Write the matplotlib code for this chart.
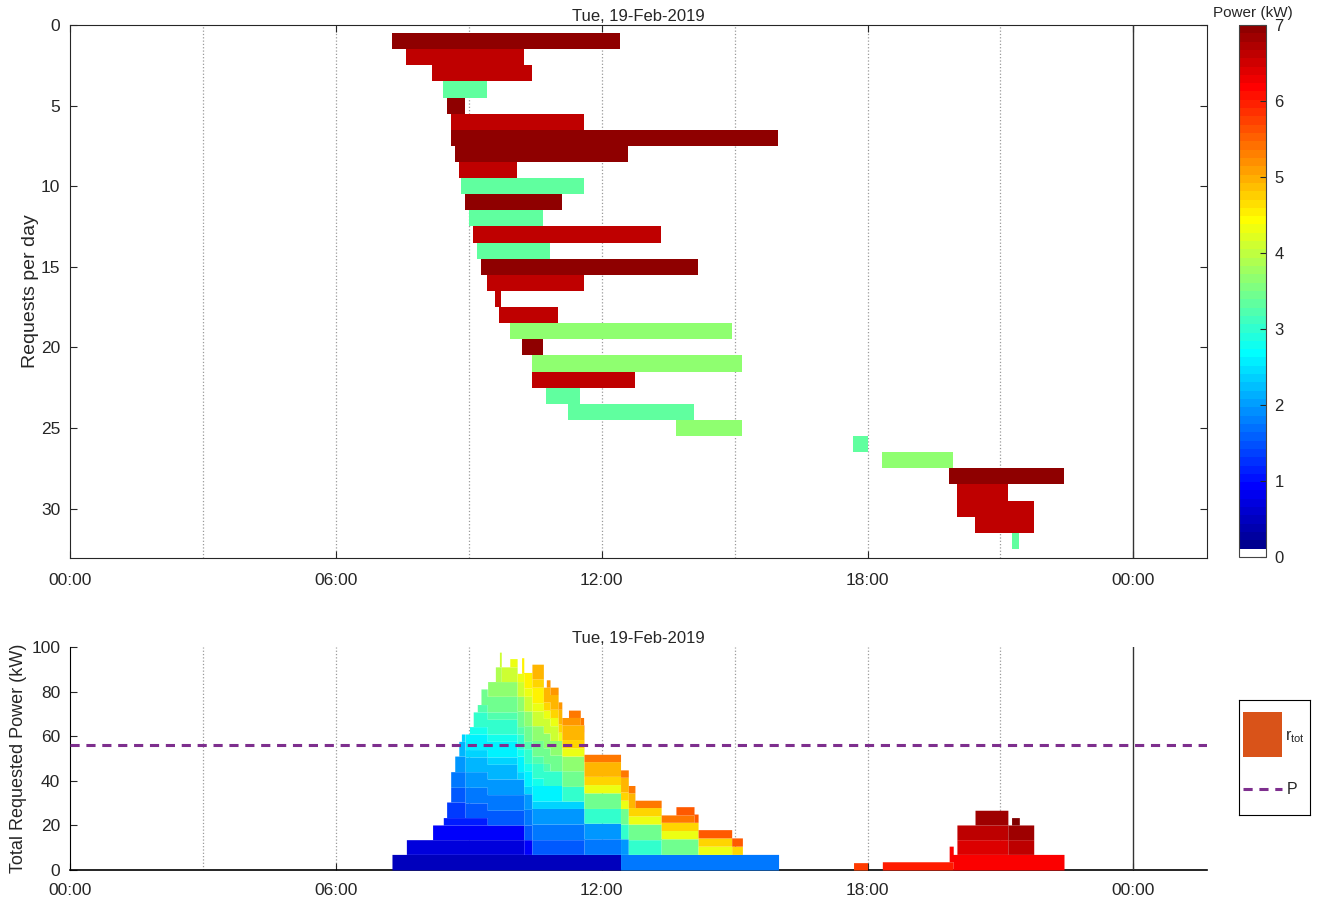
import numpy as np
import matplotlib
matplotlib.use("Agg")
import matplotlib.pyplot as plt
from matplotlib.colors import ListedColormap, Normalize
from matplotlib.patches import Rectangle

plt.rcParams['font.family'] = ['Liberation Sans', 'DejaVu Sans']

# charging requests of the day (hours from midnight) and requested power (kW)
request_start = [7.26, 7.59, 8.18, 8.42, 8.50, 8.59, 8.59, 8.68, 8.77, 8.83,
                 8.92, 9.01, 9.10, 9.19, 9.27, 9.42, 9.60, 9.69, 9.92, 10.19,
                 10.42, 10.42, 10.75, 11.25, 13.67, 17.68, 18.33, 19.84, 20.01, 20.01,
                 20.42, 21.25]
request_end = [12.42, 10.24, 10.42, 9.41, 8.91, 11.60, 15.99, 12.60, 10.09, 11.59,
               11.10, 10.68, 13.34, 10.83, 14.17, 11.60, 9.73, 11.01, 14.93, 10.68,
               15.17, 12.75, 11.51, 14.08, 15.17, 18.00, 19.93, 22.43, 21.16, 21.75,
               21.75, 21.42]
request_power = [7.0, 6.6, 6.6, 3.3, 7.0, 6.6, 7.0, 7.0, 6.6, 3.3,
                 7.0, 3.3, 6.6, 3.3, 7.0, 6.6, 6.6, 6.6, 3.7, 7.0,
                 3.7, 6.6, 3.3, 3.3, 3.7, 3.3, 3.7, 7.0, 6.6, 6.6,
                 6.6, 3.3]
power_limit = 56
day_title = "Tue, 19-Feb-2019"
hour_ticks = [0, 6, 12, 18, 24]
hour_labels = ["00:00", "06:00", "12:00", "18:00", "00:00"]


def jet(x):
    x = np.asarray(x, dtype=float)
    r = np.clip(np.minimum(4 * x - 1.5, -4 * x + 4.5), 0, 1)
    g = np.clip(np.minimum(4 * x - 0.5, -4 * x + 3.5), 0, 1)
    b = np.clip(np.minimum(4 * x + 0.5, -4 * x + 2.5), 0, 1)
    return np.stack([r, g, b], axis=-1)


def matlab_jet(m):
    # discrete jet table as built by MATLAB's jet(m)
    n = int(np.ceil(m / 4))
    u = np.r_[np.arange(1, n + 1) / n, np.ones(n - 1), np.arange(n, 0, -1) / n]
    g = int(np.ceil(n / 2)) - int(m % 4 == 1) + np.arange(1, len(u) + 1)
    table = np.zeros((m, 3))
    for col, idx in enumerate((g + n, g, g - n)):
        ok = (idx >= 1) & (idx <= m)
        table[idx[ok] - 1, col] = u[ok]
    return table


cmap = ListedColormap(np.vstack([[1, 1, 1], matlab_jet(63)]))
norm = Normalize(0, 7)
dark = '#262626'
purple = '#7E2F8E'
dash = (0, (3, 2.2))
xmax = 25.66

fig = plt.figure(figsize=(13.23, 9.01), dpi=100)
ax1 = fig.add_axes([0.0529, 0.3807, 0.8594, 0.5916])
cax = fig.add_axes([0.9365, 0.3818, 0.0204, 0.5905])
ax2 = fig.add_axes([0.0529, 0.0344, 0.8594, 0.2475])

n = len(request_start)
rows = np.arange(1, n + 1)
starts = np.array(request_start)
ends = np.array(request_end)
powers = np.array(request_power)

# --- top: one bar per request
ax1.barh(rows, ends - starts, left=starts, height=1.0,
         color=cmap(norm(powers)), edgecolor='none', zorder=3)
ax1.set_ylim(33.06, 0)
ax1.set_yticks([0, 5, 10, 15, 20, 25, 30])
ax1.set_ylabel("Requests per day", fontsize=14, color=dark, labelpad=1)

# --- bottom: stacked requested power
t = np.arange(0, xmax, 1 / 120)
layers = np.where((t[None, :] >= starts[:, None]) & (t[None, :] < ends[:, None]),
                  powers[:, None], 0.0)
cum = np.vstack([np.zeros_like(t), np.cumsum(layers, axis=0)])
for i in range(n):
    ax2.fill_between(t, cum[i], cum[i + 1], step='post', color=jet((i + 2) / (n + 1)),
                     lw=0, zorder=3)
ax2.axhline(power_limit, color=purple, ls=dash, lw=2.2, zorder=4)
ax2.set_ylim(0, 100)
ax2.set_yticks([0, 20, 40, 60, 80, 100])
ax2.set_ylabel("Total Requested Power (kW)", fontsize=13, color=dark, labelpad=3)
for s in ['top', 'right']:
    ax2.spines[s].set_visible(False)
ax2.spines['bottom'].set_color('black')
ax2.spines['bottom'].set_linewidth(1.2)
ax2.spines['left'].set_color('black')

for ax in (ax1, ax2):
    ax.set_xlim(0, xmax)
    ax.set_xticks(hour_ticks)
    ax.set_xticklabels(hour_labels)
    ax.set_title(day_title, fontsize=12, color=dark, pad=3)
    for h in [3, 6, 9, 12, 15, 18, 21]:
        ax.axvline(h, color='#9a9a9a', ls=':', lw=0.9, zorder=1)
    ax.axvline(24, color='#333333', lw=1.0, zorder=5)
    ax.tick_params(direction='in', length=5, labelsize=12.5, colors=dark,
                   top=(ax is ax1), right=(ax is ax1))
    ax.tick_params(axis='y', pad=7)
ax1.tick_params(axis='x', pad=11)
ax2.tick_params(axis='x', pad=9)
for s in ax1.spines.values():
    s.set_color(dark)

# colorbar
cb = fig.colorbar(plt.cm.ScalarMappable(norm=norm, cmap=cmap), cax=cax)
cb.set_ticks(range(8))
cb.ax.tick_params(direction='in', length=4, labelsize=12, colors=dark, pad=6)
cb.outline.set_edgecolor('#444444')
cax.set_title("Power (kW)", fontsize=11, color=dark, pad=6)

# legend box, laid out in its own pixel units
lax = fig.add_axes([1239 / 1323, (901 - 815) / 901, 71 / 1323, 115 / 901])
lax.set_xlim(0, 71)
lax.set_ylim(115, 0)
lax.set_xticks([])
lax.set_yticks([])
for s in lax.spines.values():
    s.set_color('black')
lax.add_patch(Rectangle((4, 12), 39, 45, facecolor='#D95319', edgecolor='none'))
lax.text(46, 37, r'$\mathregular{r_{tot}}$', fontsize=11.5, color=dark, va='center')
lax.plot([4, 43], [89, 89], color=purple, ls=dash, lw=2.2)
lax.text(48, 89, 'P', fontsize=11.5, color=dark, va='center')

fig.savefig("out.png", dpi=100)
